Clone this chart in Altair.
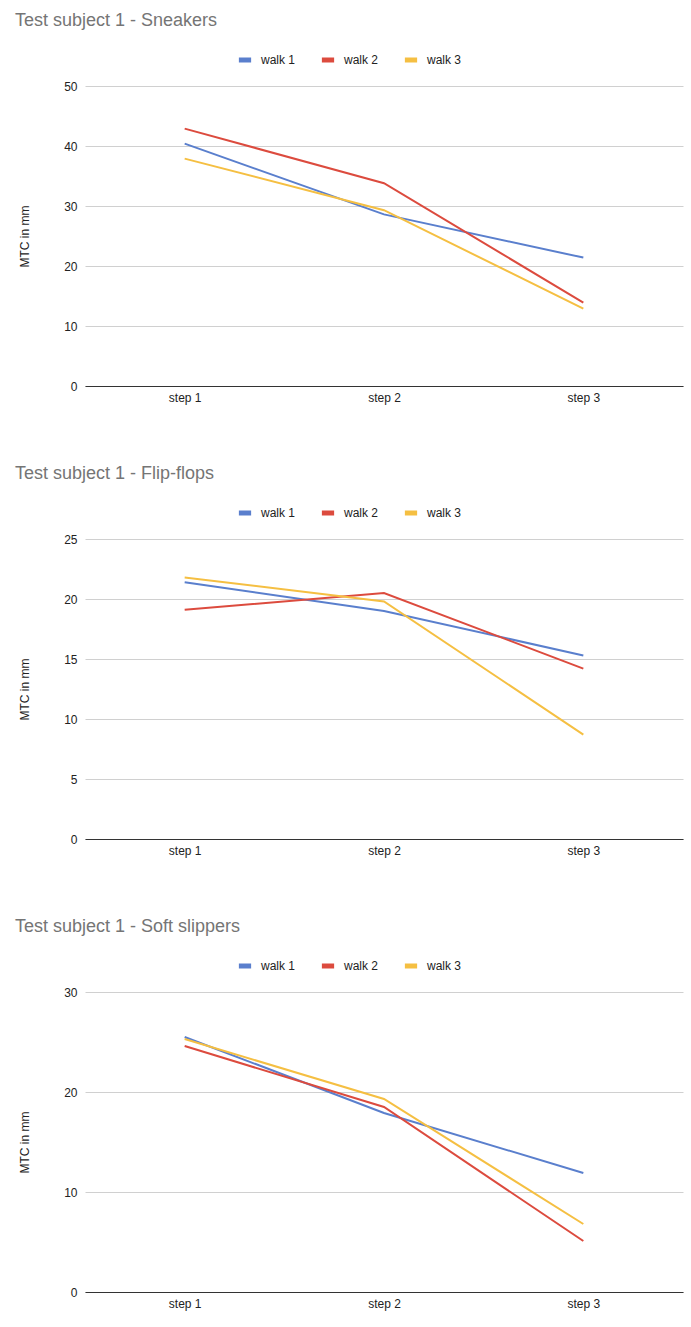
import altair as alt
import pandas as pd

steps = ["step 1", "step 2", "step 3"]
walks = ["walk 1", "walk 2", "walk 3"]
colors = ["#5a7fcd", "#dc4b3e", "#f5bf42"]

sneakers_walk1 = [40.4, 28.6, 21.4]
sneakers_walk2 = [42.9, 33.8, 13.9]
sneakers_walk3 = [37.9, 29.3, 12.9]

flipflops_walk1 = [21.4, 19.0, 15.3]
flipflops_walk2 = [19.1, 20.5, 14.2]
flipflops_walk3 = [21.8, 19.8, 8.7]

slippers_walk1 = [25.5, 17.9, 11.9]
slippers_walk2 = [24.6, 18.5, 5.1]
slippers_walk3 = [25.3, 19.3, 6.8]

titles = ["Test subject 1 - Sneakers", "Test subject 1 - Flip-flops", "Test subject 1 - Soft slippers"]
y_max = [50, 25, 30]
y_step = [10, 5, 10]
series = [
    [sneakers_walk1, sneakers_walk2, sneakers_walk3],
    [flipflops_walk1, flipflops_walk2, flipflops_walk3],
    [slippers_walk1, slippers_walk2, slippers_walk3],
]

FONT = "Liberation Sans"


def panel(title, vals, ymax, ystep):
    rows = []
    for w, s in zip(walks, vals):
        for st, v in zip(steps, s):
            rows.append({"step": st, "walk": w, "mtc": v})
    df = pd.DataFrame(rows)
    return alt.Chart(df).mark_line(strokeWidth=2).encode(
        x=alt.X("step:N", sort=steps, title=None,
                axis=alt.Axis(labelAngle=0, ticks=False, grid=False, domainColor="#333333",
                              domainWidth=1, labelFontSize=12, labelColor="#222222",
                              labelFont=FONT, labelPadding=6)),
        y=alt.Y("mtc:Q", title="MTC in mm",
                scale=alt.Scale(domain=[0, ymax], nice=False),
                axis=alt.Axis(values=list(range(0, ymax + 1, ystep)), domain=False, ticks=False,
                              gridColor="#d0d0d0", labelFontSize=12, labelColor="#222222",
                              labelFont=FONT, labelPadding=8, titleFont=FONT,
                              titleFontSize=12, titleFontWeight="normal", titleColor="#222222",
                              titlePadding=32)),
        color=alt.Color("walk:N", sort=walks,
                        scale=alt.Scale(domain=walks, range=colors),
                        legend=alt.Legend(title=None, orient="none", direction="horizontal",
                                          legendX=151, legendY=-35,
                                          symbolType="stroke", symbolSize=150,
                                          symbolStrokeWidth=5,
                                          labelFont=FONT, labelFontSize=12, labelColor="#222222",
                                          columnPadding=15, labelOffset=7)),
    ).properties(
        width=598, height=300,
        title=alt.TitleParams(title, anchor="start", frame="group", dx=-70, offset=21,
                              font=FONT, fontSize=18, fontWeight="normal", color="#757575"),
    )


charts = [panel(t, v, m, s) for t, v, m, s in zip(titles, series, y_max, y_step)]
chart = alt.vconcat(*charts, spacing=62).resolve_scale(color="independent").configure_view(
    stroke=None
).properties(padding={"left": 15, "top": 12, "right": 5, "bottom": 5})

chart.save("out.html", embed_options={"renderer": "svg", "actions": False})
